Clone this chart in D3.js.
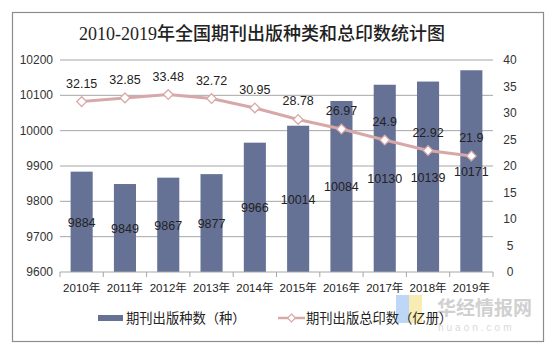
<!DOCTYPE html>
<html>
<head>
<meta charset="utf-8">
<script src="https://cdn.jsdelivr.net/npm/d3@7"></script>
<style>
  body { margin: 0; background: #fff; }
  text { font-family: "Liberation Sans", Arial, "Noto Sans CJK SC", sans-serif; }
</style>
</head>
<body>
<div id="chart"></div>
<script>
const years = ["2010年", "2011年", "2012年", "2013年", "2014年", "2015年", "2016年", "2017年", "2018年", "2019年"];
const kinds = [9884, 9849, 9867, 9877, 9966, 10014, 10084, 10130, 10139, 10171];
const prints = [32.15, 32.85, 33.48, 32.72, 30.95, 28.78, 26.97, 24.9, 22.92, 21.9];
const leftTicks = [9600, 9700, 9800, 9900, 10000, 10100, 10200];
const rightTicks = [0, 5, 10, 15, 20, 25, 30, 35, 40];
const seriesNames = ["期刊出版种数（种）", "期刊出版总印数（亿册）"];
const title = "2010-2019年全国期刊出版种类和总印数统计图";

const W = 555, H = 350;
const margin = { top: 60, right: 62, bottom: 78, left: 60 };
const width = W - margin.left - margin.right;
const height = H - margin.top - margin.bottom;

const barColor = "#667196";
const lineColor = "#d8a8a8";

const root = d3.select("#chart").append("svg")
  .attr("width", W)
  .attr("height", H);

root.append("rect")
  .attr("x", 12.5).attr("y", 12.5)
  .attr("width", 531).attr("height", 329)
  .attr("fill", "#fff")
  .attr("stroke", "#8c8c8c")
  .attr("stroke-width", 1.2);

root.append("text")
  .attr("x", 262).attr("y", 40)
  .attr("text-anchor", "middle")
  .style("font-family", "'Liberation Serif', 'Noto Sans CJK SC', serif")
  .style("font-size", "18px")
  .style("font-weight", "500")
  .style("fill", "#222")
  .text(title);

const svg = root.append("g")
  .attr("transform", `translate(${margin.left},${margin.top})`);

const x = d3.scaleBand().domain(years).range([0, width]).paddingInner(0.49).paddingOuter(0.245);
const band = d3.scaleBand().domain(years).range([0, width]);
const yL = d3.scaleLinear().domain([9600, 10200]).range([height, 0]);
const yR = d3.scaleLinear().domain([0, 40]).range([height, 0]);

// gridlines
svg.append("g")
  .selectAll("line")
  .data(leftTicks.slice(1))
  .join("line")
  .attr("x1", 0).attr("x2", width)
  .attr("y1", d => yL(d)).attr("y2", d => yL(d))
  .attr("stroke", "#a6a6a6")
  .attr("stroke-width", 1);

// left axis labels
svg.append("g")
  .selectAll("text")
  .data(leftTicks)
  .join("text")
  .attr("x", -7)
  .attr("y", d => yL(d) + 4)
  .attr("text-anchor", "end")
  .style("font-size", "12px")
  .style("fill", "#333")
  .text(d => d);

// right axis labels
svg.append("g")
  .selectAll("text")
  .data(rightTicks)
  .join("text")
  .attr("x", width + 17)
  .attr("y", d => yR(d) + 4)
  .attr("text-anchor", "middle")
  .style("font-size", "12px")
  .style("fill", "#333")
  .text(d => d);

// bars
svg.append("g")
  .selectAll("rect")
  .data(kinds)
  .join("rect")
  .attr("x", (d, i) => x(years[i]))
  .attr("y", d => yL(d))
  .attr("width", x.bandwidth())
  .attr("height", d => height - yL(d))
  .attr("fill", barColor);

// x axis
const xAxis = svg.append("g").attr("transform", `translate(0,${height})`);
xAxis.append("line")
  .attr("x1", 0).attr("x2", width)
  .attr("stroke", "#a6a6a6");
xAxis.selectAll("line.tick")
  .data(d3.range(years.length + 1))
  .join("line")
  .attr("class", "tick")
  .attr("x1", i => i * band.step()).attr("x2", i => i * band.step())
  .attr("y1", 0).attr("y2", 5)
  .attr("stroke", "#a6a6a6");
xAxis.selectAll("text")
  .data(years)
  .join("text")
  .attr("x", d => band(d) + band.bandwidth() / 2)
  .attr("y", 20)
  .attr("text-anchor", "middle")
  .style("font-size", "11.5px")
  .style("fill", "#222")
  .text(d => d);

// bar labels
svg.append("g")
  .selectAll("text")
  .data(kinds)
  .join("text")
  .attr("x", (d, i) => x(years[i]) + x.bandwidth() / 2)
  .attr("y", d => (yL(d) + height) / 2 + 5)
  .attr("text-anchor", "middle")
  .style("font-size", "12.5px")
  .style("fill", "#222")
  .text(d => d);

// line
const cx = i => band(years[i]) + band.bandwidth() / 2;
const line = d3.line()
  .x((d, i) => cx(i))
  .y(d => yR(d));

svg.append("path")
  .datum(prints)
  .attr("d", line)
  .attr("fill", "none")
  .attr("stroke", lineColor)
  .attr("stroke-width", 3);

const diamond = d3.symbol().type(d3.symbolDiamond2).size(60);
svg.append("g")
  .selectAll("path")
  .data(prints)
  .join("path")
  .attr("d", diamond)
  .attr("transform", (d, i) => `translate(${cx(i)},${yR(d)})`)
  .attr("fill", "#fff")
  .attr("stroke", lineColor)
  .attr("stroke-width", 1.3);

svg.append("g")
  .selectAll("text")
  .data(prints)
  .join("text")
  .attr("x", (d, i) => cx(i))
  .attr("y", d => yR(d) - 14)
  .attr("text-anchor", "middle")
  .style("font-size", "12.5px")
  .style("fill", "#222")
  .text(d => d);

// watermark
const wm = root.append("g").attr("opacity", 0.55);
wm.append("rect").attr("x", 396).attr("y", 295).attr("width", 13).attr("height", 28).attr("fill", "#8ab8f0");
wm.append("rect").attr("x", 409).attr("y", 295).attr("width", 13).attr("height", 28).attr("fill", "#f5dc78");
wm.append("text")
  .attr("x", 437).attr("y", 315)
  .style("font-family", "'Noto Sans CJK SC', sans-serif")
  .style("font-size", "19px")
  .style("font-weight", "bold")
  .style("fill", "#aaa")
  .text("华经情报网");
wm.append("text")
  .attr("x", 438).attr("y", 331)
  .style("font-size", "10px")
  .style("letter-spacing", "3px")
  .style("fill", "#bbb")
  .text("huaon.com");

// legend
const legend = root.append("g").attr("transform", "translate(0,318)");
legend.append("rect")
  .attr("x", 98).attr("y", -3).attr("width", 25).attr("height", 6)
  .attr("fill", barColor);
legend.append("text")
  .attr("x", 126).attr("y", 5)
  .style("font-family", "'Noto Sans CJK SC', sans-serif")
  .style("font-size", "13.3px")
  .style("fill", "#222")
  .text(seriesNames[0]);
legend.append("line")
  .attr("x1", 278).attr("x2", 305)
  .attr("stroke", lineColor).attr("stroke-width", 2.5);
legend.append("path")
  .attr("d", d3.symbol().type(d3.symbolDiamond2).size(40))
  .attr("transform", "translate(291.5,0)")
  .attr("fill", "#fff").attr("stroke", lineColor).attr("stroke-width", 1.2);
legend.append("text")
  .attr("x", 306).attr("y", 5)
  .style("font-family", "'Noto Sans CJK SC', sans-serif")
  .style("font-size", "13.3px")
  .style("fill", "#222")
  .text(seriesNames[1]);
</script>
</body>
</html>
